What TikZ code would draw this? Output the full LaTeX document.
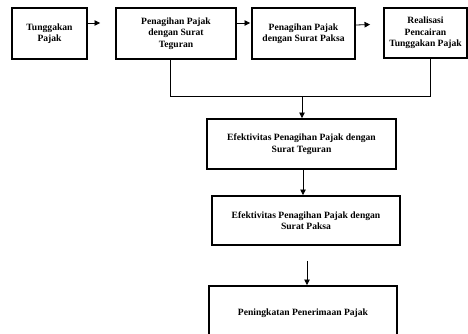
\documentclass[tikz,border=0pt]{standalone}
\usepackage{fontspec}
\setmainfont{Liberation Serif}
\usetikzlibrary{arrows.meta}
\begin{document}
\begin{tikzpicture}[x=1pt,y=-1pt,
  box/.style={draw,line width=1.9pt,inner sep=0pt,align=center,
    font=\fontsize{9.6}{11.5}\selectfont\bfseries},
  link/.style={line width=0.8pt},
  arr/.style={line width=0.8pt,-{Triangle[length=5.5pt,width=5.5pt]}}]
\useasboundingbox (0,0) rectangle (468,333);
\clip (0,0) rectangle (468,333);
\node[box,minimum width=75pt,minimum height=51pt] (b1) at (49.5,33.5) {Tunggakan\\Pajak};
\node[box,minimum width=120pt,minimum height=51pt] (b2) at (176,33.5) {Penagihan Pajak\\dengan Surat\\Teguran};
\node[box,minimum width=103pt,minimum height=51pt] (b3) at (303.5,33.5) {Penagihan Pajak\\dengan Surat Paksa};
\node[box,minimum width=83pt,minimum height=50pt] (b4) at (425.5,33) {Realisasi\\Pencairan\\Tunggakan Pajak};
\node[box,minimum width=189pt,minimum height=50pt] (b5) at (301.5,144) {Efektivitas Penagihan Pajak dengan\\Surat Teguran};
\node[box,minimum width=188pt,minimum height=49pt] (b6) at (306,220.5) {Efektivitas Penagihan Pajak dengan\\Surat Paksa};
\node[box,minimum width=188pt,minimum height=54pt] (b7) at (303,313) {Peningkatan Penerimaan Pajak};
\draw[arr] ([yshift=10.5pt]b1.east) -- ([xshift=-15pt,yshift=10.5pt]b2.west);
\draw[arr] ([yshift=10.5pt]b2.east) -- ([xshift=-1pt,yshift=10.5pt]b3.west);
\draw[arr] ([yshift=8.5pt]b3.east) -- ([xshift=-13pt,yshift=8.5pt]b4.west);
\coordinate (j) at (302,96);
\draw[link] ([xshift=-6pt]b2.south) |- (j);
\draw[link] ([xshift=4.5pt]b4.south) |- (j);
\draw[arr] (j) -- (j |- b5.north);
\coordinate (s5) at ([xshift=1.5pt]b5.south);
\draw[arr] (s5) -- (s5 |- b6.north);
\coordinate (s6) at ([xshift=1pt,yshift=-15pt]b6.south);
\draw[arr] (s6) -- (s6 |- b7.north);
\end{tikzpicture}
\end{document}
